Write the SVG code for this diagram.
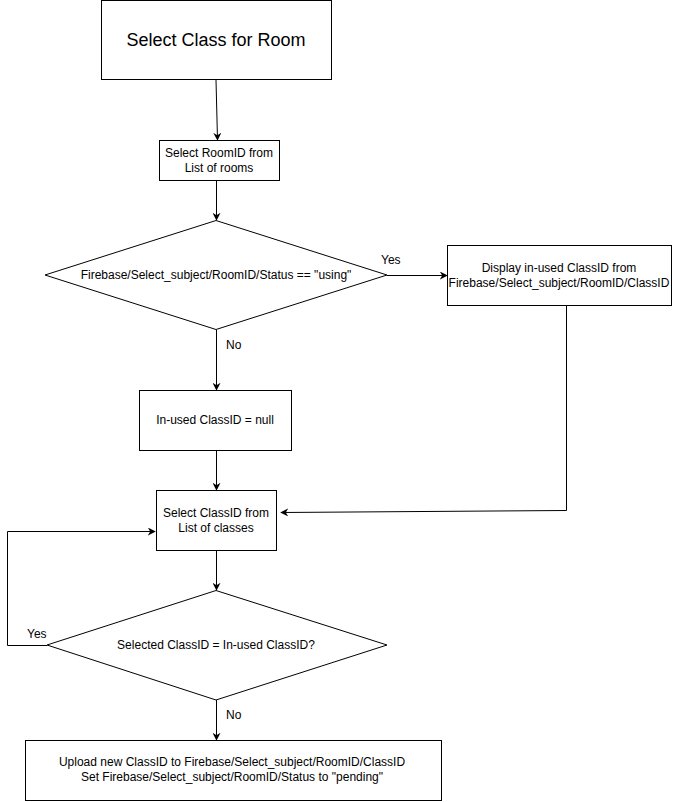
<svg xmlns="http://www.w3.org/2000/svg" width="673" height="802" viewBox="0 0 673 802">
<defs>
<marker id="arr" viewBox="0 0 10 10" refX="9" refY="5" markerWidth="8" markerHeight="8" markerUnits="userSpaceOnUse" orient="auto">
<path d="M0,0 L10,5 L0,10 L3,5 z" fill="#000"/>
</marker>
<style>
.n{fill:#fff;stroke:#000;stroke-width:1}
.t{font-family:"Liberation Sans",Arial,sans-serif;font-size:12px;fill:#000;text-anchor:middle}
.big{font-size:18px}
.c{fill:none;stroke:#000;stroke-width:1;marker-end:url(#arr)}
.l{font-family:"Liberation Sans",Arial,sans-serif;font-size:12px;fill:#000}
</style>
</defs>
<rect width="673" height="802" fill="#fff"/>
<g id="start"><rect class="n" x="101.5" y="0.5" width="230" height="79"/><text class="t big" x="216" y="46">Select Class for Room</text></g>
<g id="selectRoom"><rect class="n" x="159.5" y="140.5" width="120" height="40"/><text class="t" x="219" y="157">Select RoomID from</text><text class="t" x="219" y="172">List of rooms</text></g>
<g id="statusCheck"><polygon class="n" points="216,220.5 387,275 216,329.5 45,275"/><text class="t" x="216" y="279">Firebase/Select_subject/RoomID/Status == "using"</text></g>
<g id="display"><rect class="n" x="447.5" y="245.5" width="224" height="60"/><text class="t" x="559" y="272">Display in-used ClassID from</text><text class="t" x="559" y="287">Firebase/Select_subject/RoomID/ClassID</text></g>
<g id="nullBox"><rect class="n" x="139.5" y="390.5" width="152" height="60"/><text class="t" x="215" y="424">In-used ClassID = null</text></g>
<g id="selectClass"><rect class="n" x="156.5" y="490.5" width="120" height="60"/><text class="t" x="216" y="517">Select ClassID from</text><text class="t" x="216" y="532">List of classes</text></g>
<g id="classCheck"><polygon class="n" points="216,590.5 387,645 216,700 47,645"/><text class="t" x="216" y="649">Selected ClassID = In-used ClassID?</text></g>
<g id="upload"><rect class="n" x="25.5" y="740.5" width="416" height="60"/><text class="t" x="232" y="766">Upload new ClassID to Firebase/Select_subject/RoomID/ClassID</text><text class="t" x="232" y="781">Set Firebase/Select_subject/RoomID/Status to "pending"</text></g>
<g id="connectors">
<path class="c" d="M216,80 L217.5,140"/>
<path class="c" d="M216.5,181 L216.5,220"/>
<path class="c" d="M387,275.5 L447,275.5"/>
<text class="l" x="381" y="264">Yes</text>
<path class="c" d="M216.5,330 L216.5,390"/>
<text class="l" x="226" y="349">No</text>
<path class="c" d="M216.5,451 L216.5,490"/>
<path class="c" d="M566.5,306 L566.5,510.5 L281,512.5"/>
<path class="c" d="M216.5,551 L216.5,590"/>
<path class="c" d="M47,645.5 L7.5,645.5 L7.5,531.5 L155,531.5"/>
<text class="l" x="27" y="638">Yes</text>
<path class="c" d="M216.5,700 L216.5,740"/>
<text class="l" x="226" y="719">No</text>
</g>
</svg>
